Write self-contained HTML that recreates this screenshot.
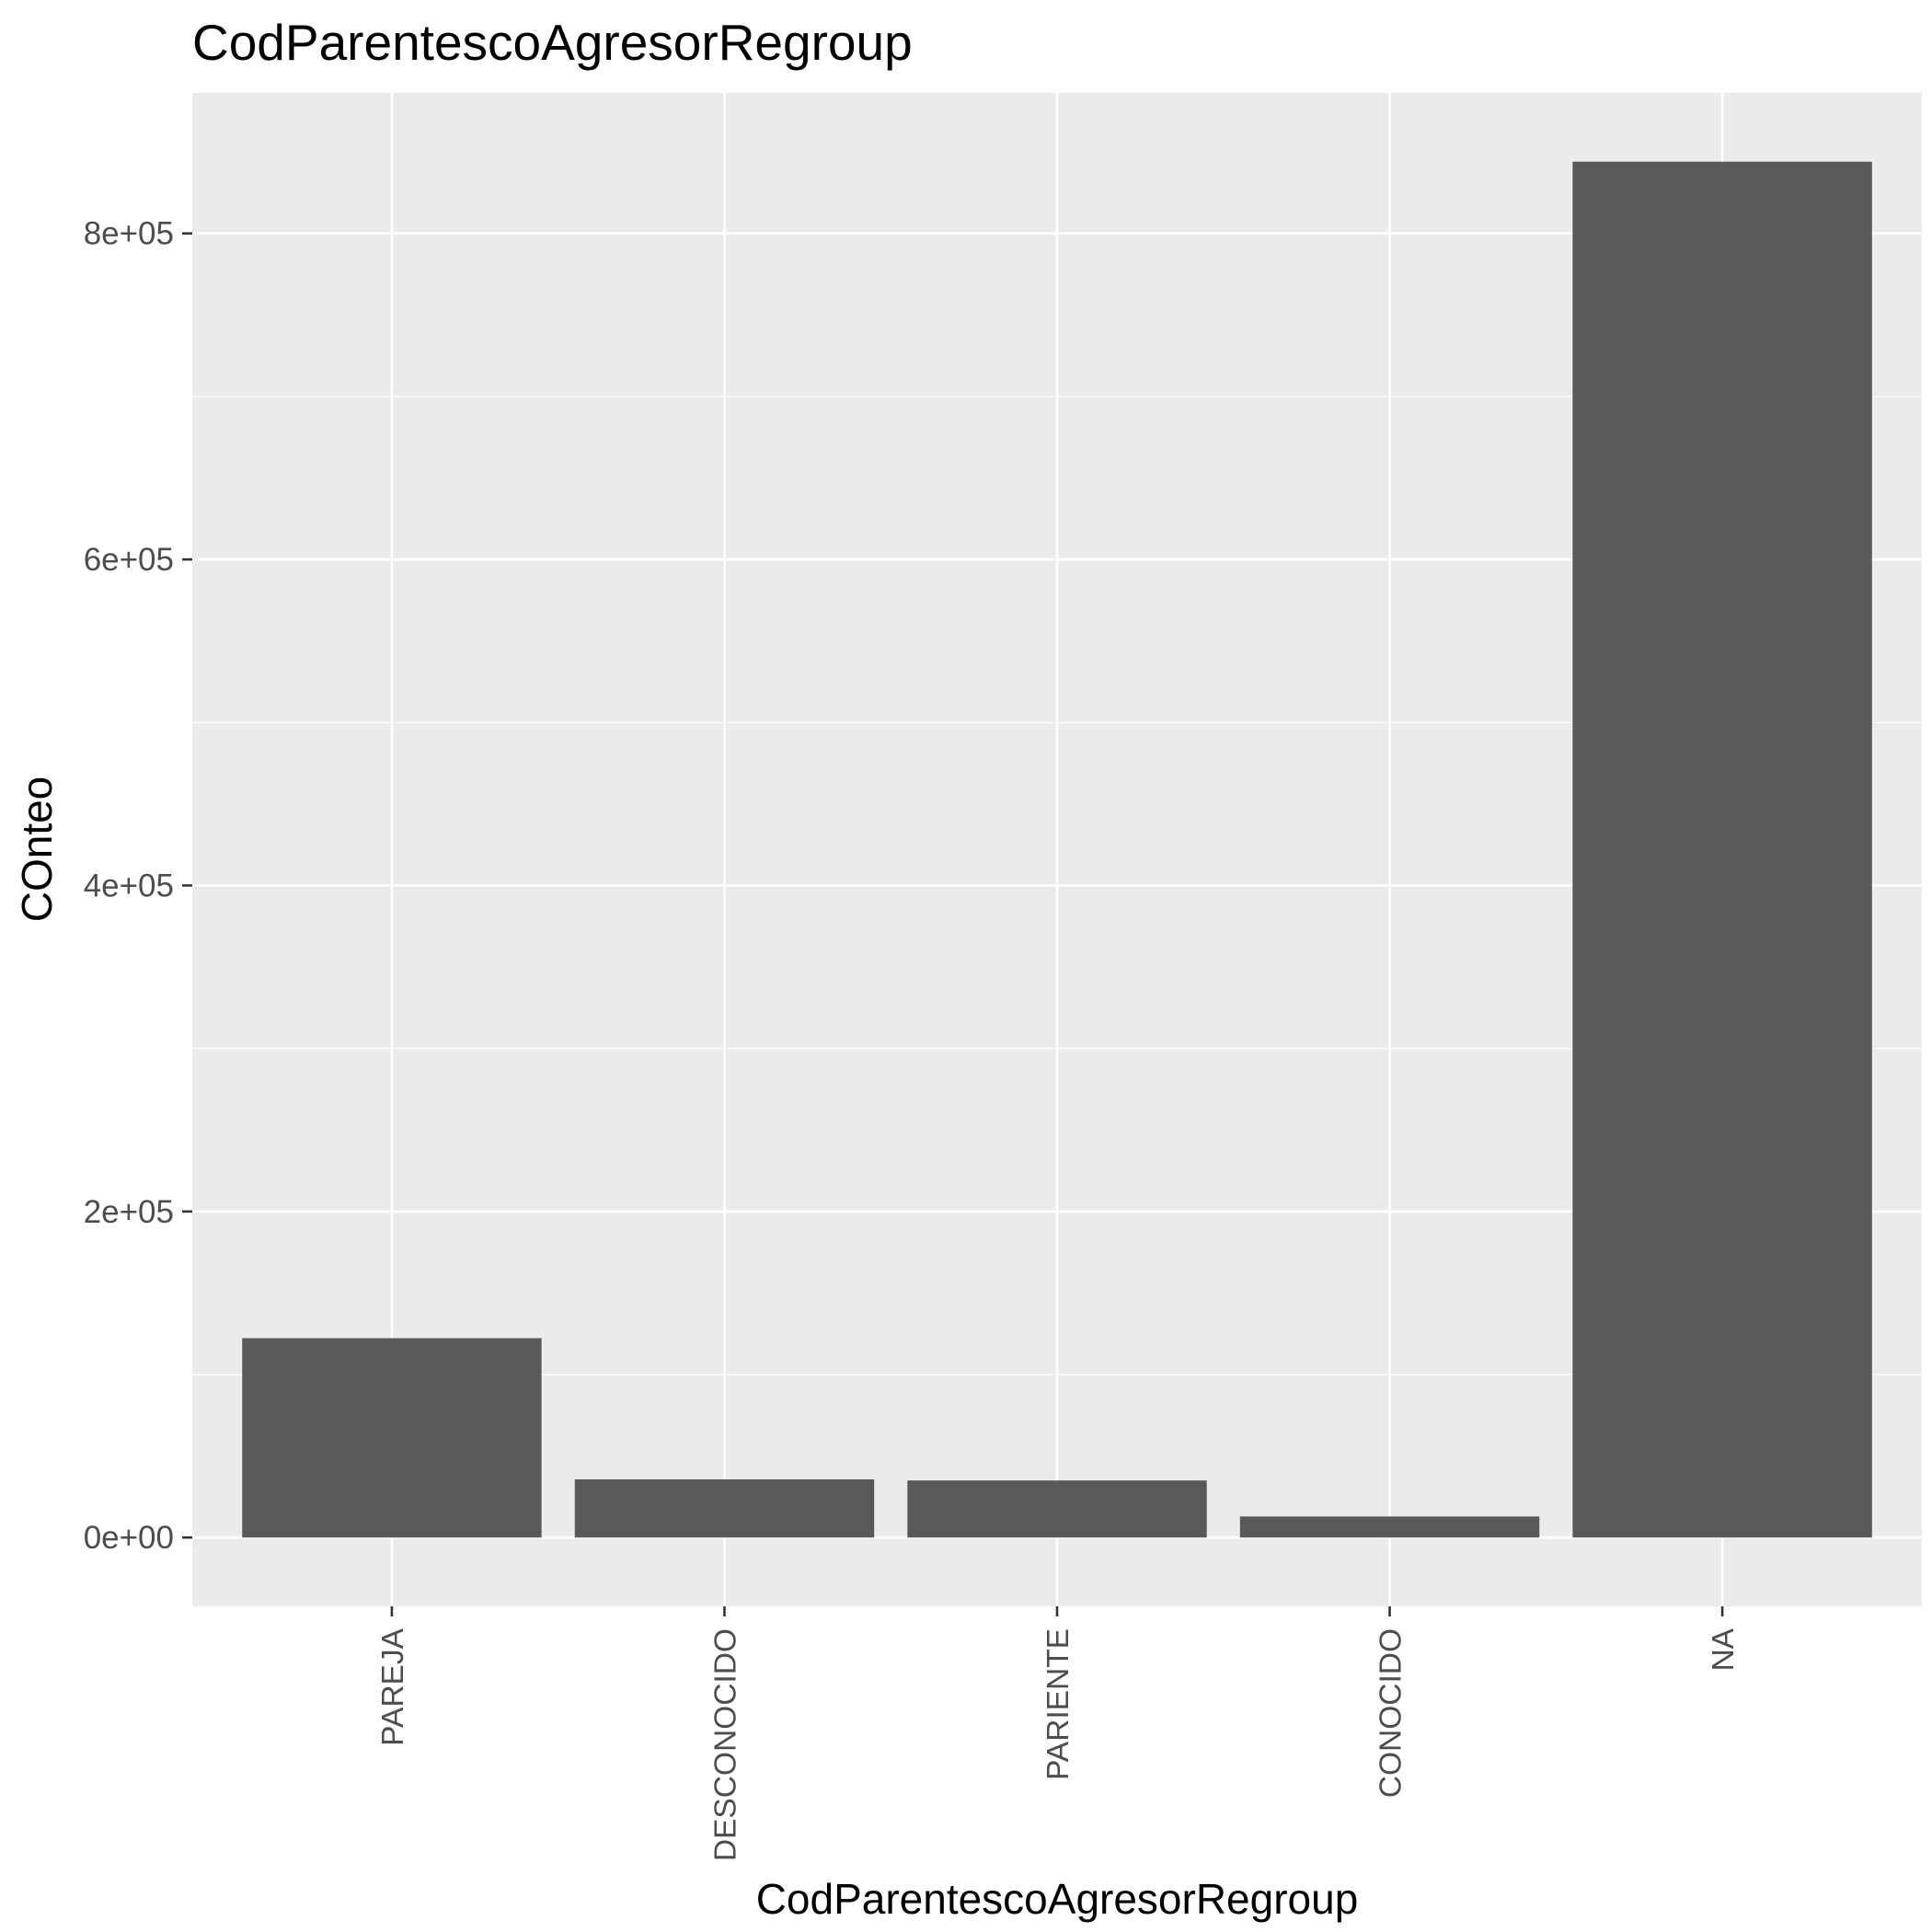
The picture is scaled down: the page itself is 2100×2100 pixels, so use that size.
<!DOCTYPE html>
<html><head><meta charset="utf-8"><style>
html,body{margin:0;padding:0;background:#fff}
svg{display:block;font-family:"Liberation Sans",Arial,sans-serif}
</style></head><body>
<svg id="chart" width="2100" height="2100" viewBox="0 0 2100 2100" xmlns="http://www.w3.org/2000/svg">
<rect width="2100" height="2100" fill="#fff"/>
<text x="209" y="65" font-size="55" fill="#000">CodParentescoAgresorRegroup</text>
<g id="panel"></g>
<text x="1149" y="2080" font-size="46" fill="#000" text-anchor="middle">CodParentescoAgresorRegroup</text>
<text transform="translate(56,923) rotate(-90)" font-size="46" fill="#000" text-anchor="middle">COnteo</text>
</svg>
<script>
const categories = ["PAREJA","DESCONOCIDO","PARIENTE","CONOCIDO","NA"];
const counts = [122300, 35700, 35000, 12900, 844000];
const yTicks = [0, 200000, 400000, 600000, 800000];
const yTickLabels = ["0e+00","2e+05","4e+05","6e+05","8e+05"];
const yMinor = [100000, 300000, 500000, 700000];

const NS = "http://www.w3.org/2000/svg";
const L = 209, R = 2089, T = 101, B = 1746;
const maxV = Math.max(...counts);
const yMin = -0.05 * maxV, yMax = 1.05 * maxV;
const y = v => B - (v - yMin) / (yMax - yMin) * (B - T);
const n = categories.length;
const x = i => L + (i + 1 - 0.4) / (n + 0.2) * (R - L);
const bw = 0.9 / (n + 0.2) * (R - L);
const svg = document.getElementById('chart');
const g = document.getElementById('panel');
function mk(tag, attrs, parent) {
  const e = document.createElementNS(NS, tag);
  for (const k in attrs) e.setAttribute(k, attrs[k]);
  (parent || g).appendChild(e);
  return e;
}
const bg = mk('rect', {x: L, y: T, width: R - L, height: B - T, fill: '#EBEBEB'});


yMinor.forEach(v => {
  const l = mk('line', {x1: L, x2: R, y1: y(v), y2: y(v), stroke: '#fff', 'stroke-width': 1.2});
  
  
});
yTicks.forEach((v, i) => {
  const l = mk('line', {x1: L, x2: R, y1: y(v), y2: y(v), stroke: '#fff', 'stroke-width': 2.6});
  
  
  const t = mk('line', {x1: L - 11, x2: L, y1: y(v), y2: y(v), stroke: '#333', 'stroke-width': 2.6}, svg);
  
  
  const tx = mk('text', {x: L - 20, y: y(v) + 12, 'font-size': 35, fill: '#4D4D4D', 'text-anchor': 'end'}, svg);
  tx.textContent = yTickLabels[i];
  
  
});
categories.forEach((c, i) => {
  const cx = x(i);
  const l = mk('line', {x1: cx, x2: cx, y1: T, y2: B, stroke: '#fff', 'stroke-width': 2.6});
  
  
});
categories.forEach((c, i) => {
  const cx = x(i);
  const b = mk('rect', {x: cx - bw / 2, y: y(counts[i]), width: bw, height: y(0) - y(counts[i]), fill: '#595959'});
  
  
  const t = mk('line', {x1: cx, x2: cx, y1: B, y2: B + 11, stroke: '#333', 'stroke-width': 2.6}, svg);
  
  
  const tx = mk('text', {transform: `translate(${cx + 12},${B + 24}) rotate(-90)`, 'font-size': 33.5, fill: '#4D4D4D', 'text-anchor': 'end'}, svg);
  tx.textContent = c;
  
  
});
</script>
</body></html>
